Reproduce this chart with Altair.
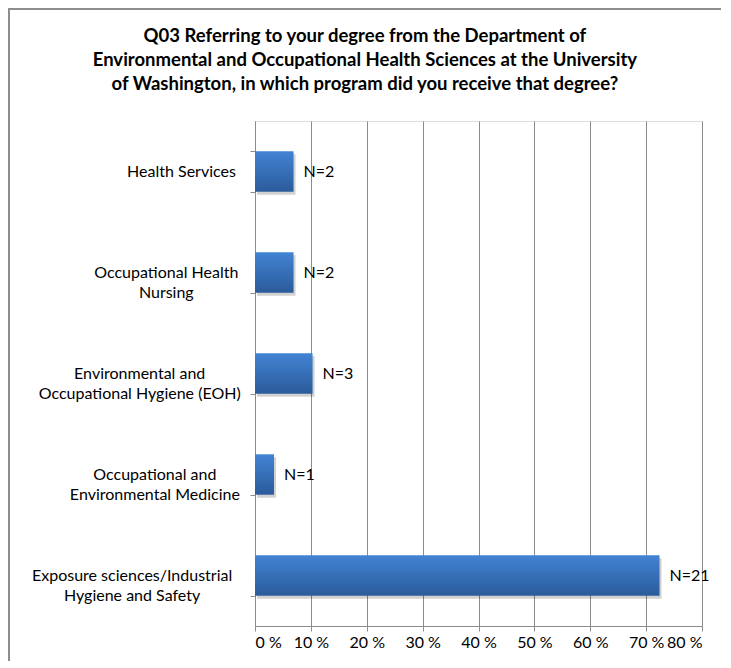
import altair as alt
import pandas as pd

categories = [
    "Health Services",
    "Occupational Health|Nursing",
    "Environmental and|Occupational Hygiene (EOH)",
    "Occupational and|Environmental Medicine",
    "Exposure sciences/Industrial|Hygiene and Safety",
]
counts = [2, 2, 3, 1, 21]
percents = [6.9, 6.9, 10.3, 3.4, 72.4]
x_ticks = [0, 10, 20, 30, 40, 50, 60, 70, 80]

title_lines = [
    "Q03 Referring to your degree from the Department of",
    "Environmental and Occupational Health Sciences at the University",
    "of Washington, in which program did you receive that degree?",
]

df = pd.DataFrame({
    "category": categories,
    "pct": percents,
    "label": [f"N={c}" for c in counts],
})

FONT = "Lato"
GRID = "#8c8c8c"
FS = 16

# centre the lines of each label inside a right-aligned block:
# padding = gap + half the (approximate) width of the longest line
pad_expr = (
    "12 + 3.8 * max(length(split(datum.label, '|')[0]), "
    "length(peek(split(datum.label, '|'))))"
)

y_enc = alt.Y(
    "category:N",
    sort=categories,
    title=None,
    scale=alt.Scale(paddingInner=0.6, paddingOuter=0.3),
    axis=alt.Axis(
        labelExpr="split(datum.label, '|')",
        labelFont=FONT,
        labelFontSize=FS,
        labelColor="#000000",
        labelLineHeight=19.5,
        labelAlign="center",
        labelBaseline="middle",
        labelPadding=alt.ExprRef(expr=pad_expr),
        labelLimit=300,
        tickBand="extent",
        tickSize=5,
        tickColor=GRID,
        domainColor=GRID,
        grid=False,
    ),
)

x_enc = alt.X(
    "pct:Q",
    title=None,
    scale=alt.Scale(domain=[0, 80], nice=False),
    axis=alt.Axis(
        values=x_ticks,
        labelExpr="datum.value + ' %'",
        labelFont=FONT,
        labelFontSize=FS,
        labelColor="#000000",
        labelPadding=3,
        tickSize=5,
        tickColor=GRID,
        domainColor=GRID,
        grid=True,
        gridColor=GRID,
        gridWidth=1,
    ),
)

base = alt.Chart(df)

shadow = base.mark_bar(color="#000000", opacity=0.18, xOffset=2, yOffset=3).encode(
    x=x_enc, y=y_enc
)

bars = base.mark_bar(
    color=alt.LinearGradient(
        gradient="linear",
        stops=[
            alt.GradientStop(color="#4283d3", offset=0),
            alt.GradientStop(color="#2b5b9b", offset=1),
        ],
        x1=0, x2=0, y1=0, y2=1,
    )
).encode(x=x_enc, y=y_enc)

texts = base.mark_text(
    align="left", baseline="middle", dx=10, font=FONT, fontSize=FS, color="#000000"
).encode(x=x_enc, y=y_enc, text="label:N")

frame_left = base.mark_rule(color="#8c8c8c", strokeWidth=1.5).encode(
    x=alt.value(-246.25), y=alt.value(-112.25), y2=alt.value(540)
)
frame_top = base.mark_rule(color="#8c8c8c", strokeWidth=1.5).encode(
    x=alt.value(-246.25), x2=alt.value(466), y=alt.value(-112.25)
)

chart = (
    alt.layer(frame_left, frame_top, shadow, bars, texts)
    .properties(
        width=447,
        height=505,
        padding=0,
        title=alt.TitleParams(
            text=title_lines,
            font=FONT,
            fontSize=18.5,
            fontWeight="bold",
            color="#000000",
            lineHeight=24,
            anchor="middle",
            frame="bounds",
            offset=-85,
        ),
    )
    .configure_view(stroke=None)
    .configure(background="#ffffff")
)

chart.save("out.html", embed_options={"renderer": "svg", "actions": False})
